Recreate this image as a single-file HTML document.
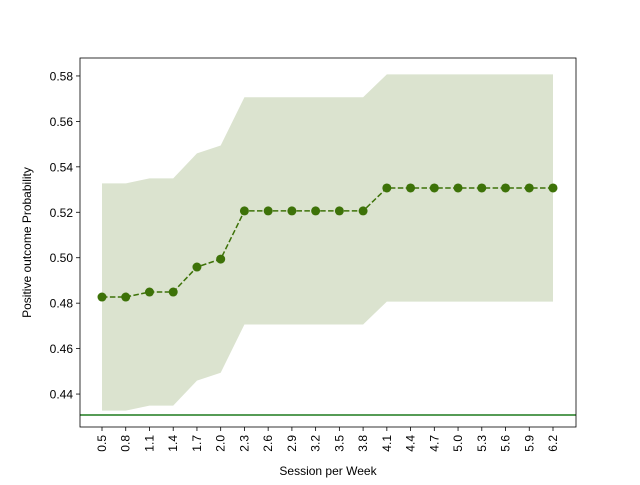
<!DOCTYPE html>
<html><head><meta charset="utf-8"><style>
body{margin:0;background:#fff;font-family:"Liberation Sans",sans-serif;}
</style></head><body>
<svg id="chart" width="640" height="480" xmlns="http://www.w3.org/2000/svg">
<rect width="640" height="480" fill="#fff"/>
<g id="plot"></g>
</svg>
<script>
const categories=["0.5","0.8","1.1","1.4","1.7","2.0","2.3","2.6","2.9","3.2","3.5","3.8","4.1","4.4","4.7","5.0","5.3","5.6","5.9","6.2"];
const values=[0.4827,0.4827,0.4849,0.4849,0.4959,0.4994,0.5206,0.5206,0.5206,0.5206,0.5206,0.5206,0.5307,0.5307,0.5307,0.5307,0.5307,0.5307,0.5307,0.5307];
const bandHalfWidth=0.05;
const baseline=0.4308;
const yTicks=[0.44,0.46,0.48,0.50,0.52,0.54,0.56,0.58];
const L=80,R=576,T=58,B=427,yMin=0.4255,yMax=0.5879;
const NS="http://www.w3.org/2000/svg";
const g=document.getElementById('plot');
const x=i=>102+i*(553-102)/(categories.length-1);
const y=v=>B-(v-yMin)/(yMax-yMin)*(B-T);
function mk(t,a){const e=document.createElementNS(NS,t);for(const k in a)e.setAttribute(k,a[k]);g.appendChild(e);return e;}
// band
let up=categories.map((c,i)=>x(i)+","+y(values[i]+bandHalfWidth));
let lo=categories.map((c,i)=>x(i)+","+y(values[i]-bandHalfWidth)).reverse();
let band=mk('polygon',{points:up.concat(lo).join(' '),fill:'#dbe3cf'});


let hl=mk('line',{x1:L,x2:R,y1:y(baseline),y2:y(baseline),stroke:'#1e7b1e','stroke-width':1.5});


let ln=mk('polyline',{points:categories.map((c,i)=>x(i)+","+y(values[i])).join(' '),fill:'none',stroke:'#3d7208','stroke-width':1.5,'stroke-dasharray':'5.5,2.4'});


categories.forEach((c,i)=>{
 let p=mk('circle',{cx:x(i),cy:y(values[i]),r:4.5,fill:'#3d7208'});
 
 
 mk('line',{x1:x(i),x2:x(i),y1:B,y2:B+4,stroke:'#000','stroke-width':0.8});
 let t=mk('text',{x:0,y:0,'font-size':12,'text-anchor':'end','dominant-baseline':'central',transform:`translate(${x(i)},${B+8}) rotate(-90)`});
 t.textContent=c;
 
 
});
yTicks.forEach(v=>{
 mk('line',{x1:L-4,x2:L,y1:y(v),y2:y(v),stroke:'#000','stroke-width':0.8});
 let t=mk('text',{x:L-7,y:y(v)+4.5,'font-size':12,'text-anchor':'end'});
 t.textContent=v.toFixed(2);
 
 
});
let fr=mk('rect',{x:L,y:T,width:R-L,height:B-T,fill:'none',stroke:'#000','stroke-width':0.8});


let xt=mk('text',{x:(L+R)/2,y:475,'font-size':12,'text-anchor':'middle'});
xt.textContent='Session per Week';


let yt=mk('text',{x:0,y:0,'font-size':12,'text-anchor':'middle',transform:`translate(31,${(T+B)/2}) rotate(-90)`});
yt.textContent='Positive outcome Probability';


</script>
</body></html>
